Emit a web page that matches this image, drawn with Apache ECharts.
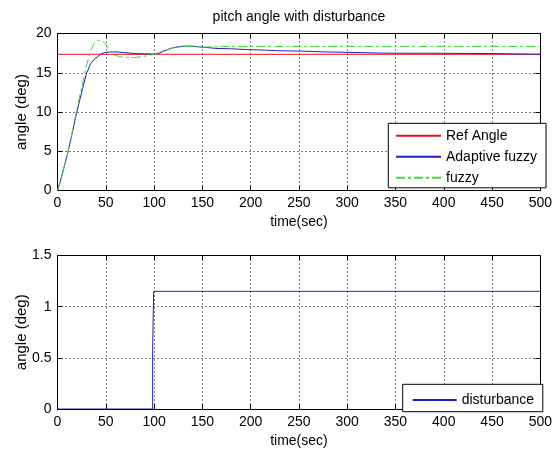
<!DOCTYPE html>
<html>
<head>
<meta charset="utf-8">
<script src="https://cdn.jsdelivr.net/npm/echarts@6/dist/echarts.min.js"></script>
<style>
html,body{margin:0;padding:0;background:#fff;}
#c{width:555px;height:449px;}
</style>
</head>
<body>
<div id="c"></div>
<script>
// ---- data ----
const xTicks = [0, 50, 100, 150, 200, 250, 300, 350, 400, 450, 500];
const yTicksTop = [0, 5, 10, 15, 20];
const yTicksBottom = [0, 0.5, 1, 1.5];

const tRef = [0, 500];
const refAngle = [17.35, 17.35];

const tAdaptive = [0, 3, 6, 10, 14, 18, 22, 26, 30, 34, 38, 42, 46, 50, 55, 62, 70, 80, 90, 100, 105, 110, 115, 120, 125, 130, 135, 140, 147, 156, 164, 180, 197, 215, 230, 255, 276, 300, 338, 400, 446, 448, 500];
const adaptiveFuzzy = [0, 1.2, 2.6, 4.5, 6.6, 8.9, 11.0, 13.0, 14.9, 16.1, 16.7, 17.1, 17.45, 17.6, 17.65, 17.65, 17.55, 17.45, 17.4, 17.38, 17.5, 17.75, 18.0, 18.2, 18.3, 18.38, 18.4, 18.38, 18.3, 18.2, 18.1, 18.05, 17.95, 17.88, 17.8, 17.75, 17.65, 17.6, 17.5, 17.48, 17.45, 17.35, 17.35];

const tFuzzy = [0, 3, 6, 10, 14, 18, 22, 26, 30, 34, 38, 42, 44, 46, 50, 54, 58, 64, 70, 80, 90, 100, 110, 120, 130, 140, 150, 160, 180, 500];
const fuzzy = [0, 1.2, 2.6, 4.5, 6.7, 9.1, 11.5, 13.7, 15.9, 17.7, 18.8, 19.15, 19.2, 19.1, 18.65, 17.8, 17.3, 17.05, 16.95, 16.95, 17.1, 17.35, 17.8, 18.15, 18.35, 18.35, 18.25, 18.3, 18.35, 18.35];

const tDist = [0, 98.5, 98.5, 99.6, 99.6, 500];
const disturbance = [0, 0, 0.57, 0.57, 1.15, 1.15];

// ---- chart ----
const pairs = (t, v) => t.map((x, i) => [x, v[i]]);
const FONT = '"Liberation Sans", Arial, sans-serif';
const black = '#000';

function xAx(grid) {
  return [{
    type: 'value', gridIndex: grid, min: xTicks[0], max: xTicks[xTicks.length - 1],
    interval: xTicks[1] - xTicks[0], z: 3,
    axisLine: { show: true, onZero: false, lineStyle: { color: black, width: 1 } },
    axisTick: { show: true, inside: true, length: 5, lineStyle: { color: black } },
    axisLabel: { color: black, fontSize: 14, fontFamily: FONT, margin: 6 },
    splitLine: { show: true, lineStyle: { color: black, type: [1, 3], width: 1 } },
    name: 'time(sec)', nameLocation: 'middle', nameGap: 25, nameMoveOverlap: false,
    nameTextStyle: { color: black, fontSize: 14, fontFamily: FONT }
  }, {
    type: 'value', gridIndex: grid, position: 'top', min: xTicks[0], max: xTicks[xTicks.length - 1],
    interval: xTicks[1] - xTicks[0],
    axisLine: { show: true, onZero: false, lineStyle: { color: black, width: 1 } },
    axisTick: { show: true, inside: true, length: 5, lineStyle: { color: black } },
    axisLabel: { show: false }, splitLine: { show: false }
  }];
}
function yAx(grid, ticks) {
  return [{
    type: 'value', gridIndex: grid, min: ticks[0], max: ticks[ticks.length - 1],
    interval: ticks[1] - ticks[0],
    axisLine: { show: true, onZero: false, lineStyle: { color: black, width: 1 } },
    axisTick: { show: true, inside: true, length: 5, lineStyle: { color: black } },
    axisLabel: { color: black, fontSize: 14, fontFamily: FONT, margin: 6 },
    splitLine: { show: true, lineStyle: { color: black, type: [1, 3], width: 1 } },
    name: 'angle (deg)', nameLocation: 'middle', nameGap: 28, nameRotate: 90, nameMoveOverlap: false,
    nameTextStyle: { color: black, fontSize: 15, fontFamily: FONT }
  }, {
    type: 'value', gridIndex: grid, position: 'right', min: ticks[0], max: ticks[ticks.length - 1],
    interval: ticks[1] - ticks[0],
    axisLine: { show: true, onZero: false, lineStyle: { color: black, width: 1 } },
    axisTick: { show: true, inside: true, length: 5, lineStyle: { color: black } },
    axisLabel: { show: false }, splitLine: { show: false }
  }];
}

const legendCommon = {
  orient: 'vertical', itemHeight: 14,
  backgroundColor: '#fff', borderColor: black, borderWidth: 1, borderRadius: 0,
  textStyle: { color: black, fontSize: 14, fontFamily: FONT },
  itemStyle: { opacity: 0, borderWidth: 0 },
  selectedMode: false
};

const chart = echarts.init(document.getElementById('c'), null, { renderer: 'canvas' });
chart.setOption({
  animation: false,
  backgroundColor: '#fff',
  textStyle: { fontFamily: FONT },
  title: {
    text: 'pitch angle with disturbance', left: 299, top: 10, textAlign: 'center', padding: 0,
    textStyle: { color: black, fontSize: 14, fontWeight: 'normal', fontFamily: FONT }
  },
  grid: [
    { left: 57.5, top: 33.5, width: 484, height: 157 },
    { left: 57.5, top: 255.5, width: 484, height: 157 }
  ],
  xAxis: [...xAx(0), ...xAx(1)],
  yAxis: [...yAx(0, yTicksTop), ...yAx(1, yTicksBottom)],
  legend: [Object.assign({}, legendCommon, {
    data: ['Ref Angle', 'Adaptive fuzzy', 'fuzzy'],
    left: 388.3, top: 123.3,
    padding: [5.5, 9, 3, 6.7], itemGap: 7, itemWidth: 45
  }), Object.assign({}, legendCommon, {
    data: ['disturbance'],
    left: 402.7, top: 384.3,
    padding: [8.7, 8.7, 4.7, 9], itemWidth: 44
  })],
  series: [
    { name: 'Ref Angle', type: 'line', xAxisIndex: 0, yAxisIndex: 0, data: pairs(tRef, refAngle),
      symbol: 'none', lineStyle: { color: '#e8101a', width: 1 }, itemStyle: { color: '#e8101a' } },
    { name: 'Adaptive fuzzy', type: 'line', xAxisIndex: 0, yAxisIndex: 0, data: pairs(tAdaptive, adaptiveFuzzy),
      symbol: 'none', lineStyle: { color: '#2020c0', width: 1 }, itemStyle: { color: '#2020c0' } },
    { name: 'fuzzy', type: 'line', xAxisIndex: 0, yAxisIndex: 0, data: pairs(tFuzzy, fuzzy),
      symbol: 'none', lineStyle: { color: '#3ad83a', width: 1, type: [9, 3, 3, 3] }, itemStyle: { color: '#3ad83a' } },
    { name: 'disturbance', type: 'line', xAxisIndex: 2, yAxisIndex: 2, data: pairs(tDist, disturbance),
      z: -1, symbol: 'none', lineStyle: { color: '#2020c0', width: 1 }, itemStyle: { color: '#2020c0' } }
  ]
});
</script>
</body>
</html>
